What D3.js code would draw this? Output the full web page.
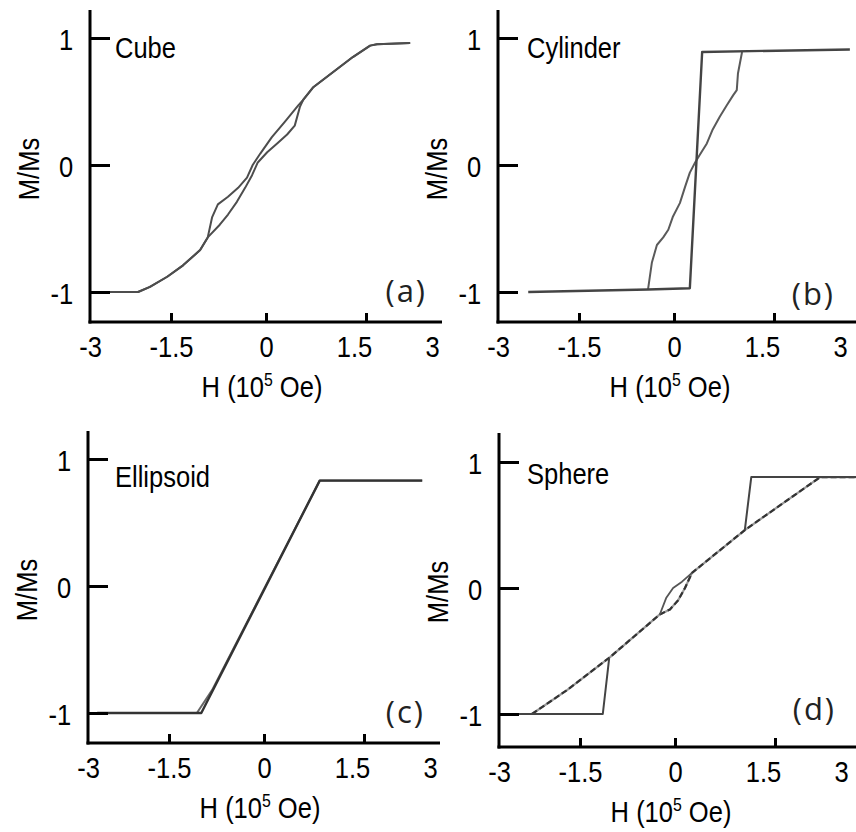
<!DOCTYPE html>
<html><head><meta charset="utf-8">
<script src="https://cdn.jsdelivr.net/npm/d3@7"></script>
<style>body{margin:0;background:#fff;} svg{display:block;}</style>
</head><body>
<svg id="chart" width="856" height="832"></svg>
<script>
// ---------- data ----------
const xTickValues = [-3, -1.5, 0, 1.5, 3];
const xTickLabels = ["-3", "-1.5", "0", "1.5", "3"];
const xMarkValues = [-1.5, 0, 1.5];
const yTickValues = [-1, 0, 1];
const yTickLabels = ["-1", "0", "1"];
const panelNames = ["Cube", "Cylinder", "Ellipsoid", "Sphere"];
const panelTags = ["(a)", "(b)", "(c)", "(d)"];
const yTitle = "M/Ms";

// (a) Cube: two branches [H, M/Ms]
const cubeBranchA = [[-2.63,-1.0],[-2.11,-1.0],[-1.89,-0.96],[-1.57,-0.88],[-1.31,-0.79],[-1.04,-0.67],[-0.92,-0.57],
  [-0.85,-0.41],[-0.76,-0.31],[-0.60,-0.25],[-0.44,-0.18],[-0.30,-0.10],[-0.21,0.0],[-0.09,0.09],[0.10,0.22],
  [0.32,0.34],[0.55,0.47],[0.63,0.51],[0.80,0.61],[1.14,0.73],[1.48,0.85],[1.81,0.94],[1.94,0.95],[2.58,0.96]];
const cubeBranchB = [[-2.63,-1.0],[-2.11,-1.0],[-1.89,-0.96],[-1.57,-0.88],[-1.31,-0.79],[-1.04,-0.67],[-0.92,-0.57],
  [-0.73,-0.47],[-0.60,-0.39],[-0.46,-0.29],[-0.33,-0.18],[-0.22,-0.08],[-0.13,0.02],[0.02,0.10],[0.19,0.17],
  [0.36,0.24],[0.49,0.31],[0.58,0.46],[0.63,0.51],[0.80,0.61],[1.14,0.73],[1.48,0.85],[1.81,0.94],[1.94,0.95],[2.58,0.96]];

// (b) Cylinder
const cylBranchA = [[-2.44,-1.0],[-0.41,-0.98],[0.27,-0.97],[0.48,0.89],[3.19,0.91]];
const cylBranchB = [[-0.41,-0.98],[-0.35,-0.77],[-0.27,-0.63],[-0.17,-0.57],[-0.09,-0.51],[-0.02,-0.41],[0.10,-0.30],
  [0.19,-0.17],[0.27,-0.06],[0.36,0.02],[0.44,0.08],[0.56,0.17],[0.66,0.28],[0.78,0.38],[0.90,0.47],[1.01,0.55],
  [1.07,0.59],[1.09,0.72],[1.16,0.89]];

// (c) Ellipsoid
const ellBranchA = [[-2.83,-1.0],[-0.99,-1.0],[0.95,0.83],[2.85,0.83]];
const ellBranchB = [[-2.83,-1.0],[-1.06,-1.0],[-0.82,-0.82],[0.95,0.83],[2.85,0.83]];

// (d) Sphere
const sphDiagonal = [[-2.39,-1.0],[-1.74,-0.81],[-1.03,-0.55],[-0.24,-0.21],[-0.08,-0.17],[0.05,-0.10],[0.17,0.0],
  [0.29,0.12],[1.19,0.46],[2.60,0.88],[3.29,0.88]];
const sphLowerStep = [[-2.80,-1.0],[-1.14,-1.0],[-1.04,-0.56]];
const sphLoop = [[-0.24,-0.21],[-0.14,-0.08],[-0.03,0.0],[0.12,0.05],[0.29,0.12]];
const sphUpperStep = [[1.19,0.46],[1.30,0.88],[3.29,0.88]];

// ---------- layout ----------
const panels = [
  {ox:90,  top:10,  axisY:322, y1:38,  ym1:292, xEnd:442, nameDx:25, nameY:58,  tagY:302,
   series:[{d:cubeBranchA,c:"#4d4d4d",w:2},{d:cubeBranchB,c:"#4d4d4d",w:2}]},
  {ox:498, top:10,  axisY:322, y1:38,  ym1:292, xEnd:856, nameDx:29, nameY:58,  tagY:305,
   series:[{d:cylBranchB,c:"#5a5a5a",w:2},{d:cylBranchA,c:"#444",w:2.4}]},
  {ox:88,  top:431, axisY:743, y1:459, ym1:713, xEnd:440, nameDx:27, nameY:487, tagY:723,
   series:[{d:ellBranchB,c:"#666",w:2},{d:ellBranchA,c:"#333",w:2.4}]},
  {ox:499, top:433, axisY:747, y1:462, ym1:714, xEnd:856, nameDx:28, nameY:484, tagY:720,
   series:[{d:sphDiagonal,c:"#9a9a9a",w:2.2},{d:sphDiagonal,c:"#333",w:2.2,dash:"6,3"},
           {d:sphLowerStep,c:"#444",w:2},{d:sphLoop,c:"#555",w:1.8},{d:sphUpperStep,c:"#444",w:2}]}
];

const svg = d3.select("#chart");
const FONT = "'Liberation Sans', Arial, sans-serif";
const FS = 29, SX = 0.88;

panels.forEach((p, i) => {
  const g = svg.append("g");
  const x = d3.scaleLinear().domain(xTickValues).range([p.ox, p.ox+81, p.ox+176, p.ox+264, p.ox+342]);
  const xMark = d3.scaleLinear().domain(xTickValues).range([p.ox, p.ox+81, p.ox+176, p.ox+276, p.ox+342]);
  const y = d3.scaleLinear().domain([-1, 1]).range([p.ym1, p.y1]);

  // data lines
  const line = d3.line().x(d => x(d[0])).y(d => y(d[1]));
  p.series.forEach(s => {
    g.append("path").attr("d", line(s.d)).attr("fill", "none")
      .attr("stroke", s.c).attr("stroke-width", s.w)
      .attr("stroke-linejoin", "round").attr("stroke-linecap", "butt")
      .attr("stroke-dasharray", s.dash || null);
  });

  // axis lines
  g.append("line").attr("x1", p.ox).attr("x2", p.ox).attr("y1", p.top).attr("y2", p.axisY + 1.5)
    .attr("stroke", "#000").attr("stroke-width", 3);
  g.append("line").attr("x1", p.ox - 1.5).attr("x2", p.xEnd).attr("y1", p.axisY).attr("y2", p.axisY)
    .attr("stroke", "#000").attr("stroke-width", 3);

  // x tick marks (upward)
  const xm = g.append("g").attr("transform", `translate(0,${p.axisY})`)
    .call(d3.axisTop(xMark).tickValues(xMarkValues).tickSize(9).tickFormat(""));
  xm.select(".domain").remove();
  xm.selectAll(".tick line").attr("stroke", "#000").attr("stroke-width", 3);

  // x tick labels
  const xl = g.append("g").attr("transform", `translate(0,${p.axisY})`)
    .call(d3.axisBottom(x).tickValues(xTickValues).tickSize(0).tickPadding(14)
      .tickFormat((d, k) => xTickLabels[k]));
  xl.select(".domain").remove();
  xl.selectAll("text").attr("font-family", FONT).attr("font-size", FS).attr("fill", "#000")
    .attr("transform", `scale(${SX},1)`);

  // y tick marks (rightward)
  const ym = g.append("g").attr("transform", `translate(${p.ox},0)`)
    .call(d3.axisRight(y).tickValues(yTickValues).tickSize(20).tickFormat(""));
  ym.select(".domain").remove();
  ym.selectAll(".tick line").attr("stroke", "#000").attr("stroke-width", 3);

  // y tick labels
  const yl = g.append("g").attr("transform", `translate(${p.ox},2)`)
    .call(d3.axisLeft(y).tickValues(yTickValues).tickSize(0).tickPadding(19)
      .tickFormat((d, k) => yTickLabels[k]));
  yl.select(".domain").remove();
  yl.selectAll("text").attr("font-family", FONT).attr("font-size", FS).attr("fill", "#000")
    .attr("transform", `scale(${SX},1)`);

  // axis titles
  const xt = g.append("text").attr("transform", `translate(${p.ox + 172},${p.axisY + 75}) scale(${SX},1)`)
    .attr("text-anchor", "middle").attr("font-family", FONT).attr("font-size", FS).attr("fill", "#000");
  xt.append("tspan").text("H (10");
  xt.append("tspan").text("5").attr("font-size", 18).attr("dy", -11);
  xt.append("tspan").text(" Oe)").attr("dy", 11);

  g.append("text").attr("transform", `translate(${p.ox - 51},${y(0) + 4}) rotate(-90) scale(${SX},1)`)
    .attr("text-anchor", "middle").attr("font-family", FONT).attr("font-size", FS).attr("fill", "#000")
    .text(yTitle);

  // panel name
  g.append("text").attr("transform", `translate(${p.ox + p.nameDx},${p.nameY}) scale(${SX},1)`)
    .attr("font-family", FONT).attr("font-size", FS).attr("fill", "#000").text(panelNames[i]);

  // panel tag
  g.append("text").attr("x", p.ox + 337).attr("y", p.tagY).attr("text-anchor", "end")
    .attr("font-family", "'Open Sans', 'Noto Sans', sans-serif").attr("font-size", 31)
    .attr("letter-spacing", 2).attr("fill", "#222").text(panelTags[i]);
});
</script>
</body></html>
